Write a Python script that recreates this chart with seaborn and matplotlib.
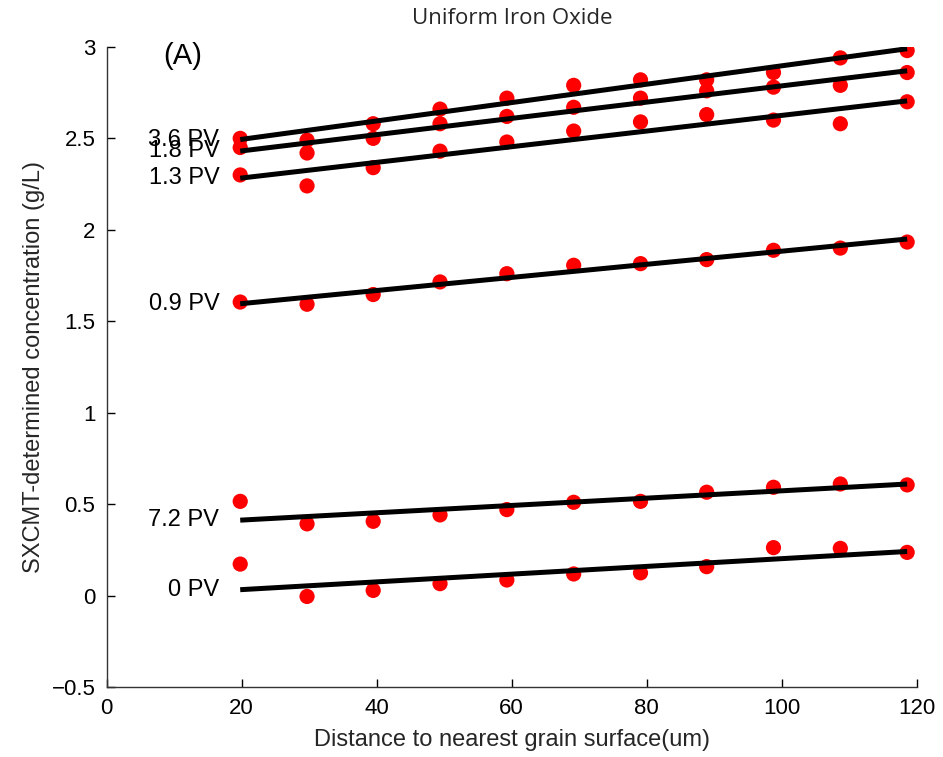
import numpy as np
import pandas as pd
import matplotlib
matplotlib.use("Agg")
import matplotlib.pyplot as plt
import seaborn as sns

# ---- data ----
distance = [19.8, 29.7, 39.5, 49.4, 59.3, 69.2, 79.1, 88.9, 98.8, 108.7, 118.6]

pv_labels = ["3.6 PV", "1.8 PV", "1.3 PV", "0.9 PV", "7.2 PV", "0 PV"]

conc_3_6 = [2.50, 2.49, 2.58, 2.66, 2.72, 2.79, 2.82, 2.82, 2.86, 2.94, 2.98]
conc_1_8 = [2.45, 2.42, 2.50, 2.58, 2.62, 2.67, 2.72, 2.76, 2.78, 2.79, 2.86]
conc_1_3 = [2.30, 2.24, 2.34, 2.43, 2.48, 2.54, 2.59, 2.63, 2.60, 2.58, 2.70]
conc_0_9 = [1.605, 1.593, 1.646, 1.715, 1.76, 1.806, 1.815, 1.837, 1.888, 1.90, 1.933]
conc_7_2 = [0.515, 0.392, 0.406, 0.441, 0.47, 0.51, 0.515, 0.565, 0.592, 0.61, 0.605]
conc_0 = [0.172, -0.005, 0.028, 0.065, 0.085, 0.118, 0.124, 0.158, 0.262, 0.258, 0.236]

series = [conc_3_6, conc_1_8, conc_1_3, conc_0_9, conc_7_2, conc_0]

title = "Uniform Iron Oxide"
panel = "(A)"
xlabel = "Distance to nearest grain surface(um)"
ylabel = "SXCMT-determined concentration (g/L)"
xticks = [0, 20, 40, 60, 80, 100, 120]
yticks = [-0.5, 0, 0.5, 1, 1.5, 2, 2.5, 3]

df = pd.concat(
    [pd.DataFrame({"distance": distance, "conc": vals, "pv": lab})
     for lab, vals in zip(pv_labels, series)],
    ignore_index=True,
)

# ---- plot ----
sns.set_style("ticks")
plt.rcParams["font.family"] = ["Liberation Sans", "DejaVu Sans"]

fig = plt.figure(figsize=(9.43, 7.57), dpi=100)
ax = fig.add_axes([0.113, 0.0925, 0.859, 0.8455])

sns.scatterplot(data=df, x="distance", y="conc", color="#ff0000", s=120,
                edgecolor="none", linewidth=0, ax=ax, zorder=2, legend=False)

for lab in pv_labels:
    sub = df[df["pv"] == lab]
    sns.regplot(data=sub, x="distance", y="conc", scatter=False, ci=None,
                color="black", ax=ax,
                line_kws=dict(lw=3.6, solid_capstyle="butt", zorder=3))
    slope, icpt = np.polyfit(sub["distance"], sub["conc"], 1)
    y0 = slope * sub["distance"].iloc[0] + icpt
    ax.text(16.7, y0, lab, ha="right", va="center", fontsize=17, color="black")

ax.set_xlim(0, 120)
ax.set_ylim(-0.5, 3)
ax.set_xticks(xticks)
ax.set_yticks(yticks)
ax.set_xticklabels([f"{t:g}" for t in xticks])
ax.set_yticklabels([f"{t:g}".replace("-", "\u2212") for t in yticks])
ax.tick_params(direction="in", length=6, width=1, labelsize=16, colors="black")
ax.tick_params(axis="x", pad=8)
ax.tick_params(axis="y", pad=8)
for s in ["left", "bottom"]:
    ax.spines[s].set_color("#333333")
    ax.spines[s].set_linewidth(1)
sns.despine(ax=ax)

ax.set_xlabel(xlabel, fontsize=17, labelpad=7)
ax.set_ylabel(ylabel, fontsize=17, labelpad=5)
fig.text(0.543, 0.976, title, ha="center", va="center", fontsize=16,
         family=["Open Sans", "DejaVu Sans"])
ax.text(11.26, 2.95, panel, ha="center", va="center", fontsize=21, color="black")

fig.savefig("out.png", dpi=100)
